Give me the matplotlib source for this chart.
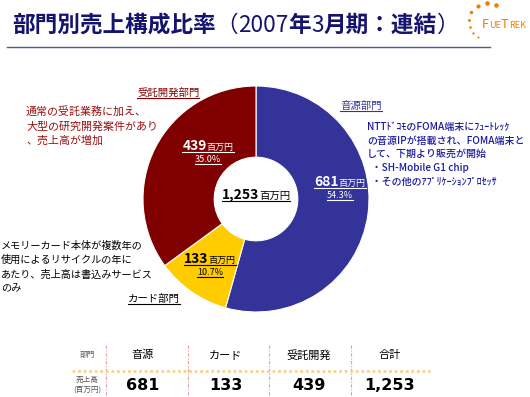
import matplotlib
matplotlib.use("Agg")
import matplotlib.pyplot as plt

plt.rcParams['font.family'] = ['Noto Sans CJK JP', 'DejaVu Sans']

# data
segments = ['音源', 'カード', '受託開発']
sales = [681, 133, 439]
shares = ['54.3%', '10.7%', '35.0%']
total = 1253
colors = ['#333399', '#FFCC00', '#800000']

title_parts = ['部門別売上構成比率', '（', '2007', '年', '3', '月期：連結', '）']

W, H = 530, 397
fig = plt.figure(figsize=(W / 100, H / 100), dpi=100)

# donut
cx, cy, r = 256, 199, 113
axp = fig.add_axes([(cx - r) / W, (H - cy - r) / H, 2 * r / W, 2 * r / H])
axp.pie(sales, colors=colors, startangle=90, counterclock=False, radius=1,
        wedgeprops=dict(width=0.63, edgecolor='white', linewidth=0.8))
axp.set_xlim(-1, 1)
axp.set_ylim(-1, 1)
axp.set_aspect('equal')

# overlay axes in pixel coordinates, on top of the pie
ax0 = fig.add_axes([0, 0, 1, 1])
ax0.set_xlim(0, W)
ax0.set_ylim(H, 0)
ax0.axis('off')
ax0.patch.set_alpha(0)
ax0.set_zorder(5)

renderer = fig.canvas.get_renderer()


def width_of(t):
    bb = t.get_window_extent(renderer=renderer)
    return bb.width


def seq_text(x, y, parts, ha='left', underline=False, ucolor=None):
    # draw text parts one after another on a common baseline
    texts = []
    for s, kw in parts:
        t = ax0.text(0, y, s, va='baseline', ha='left', **kw)
        texts.append(t)
    ws = [width_of(t) for t in texts]
    tot = sum(ws)
    if ha == 'center':
        x0 = x - tot / 2
    elif ha == 'right':
        x0 = x - tot
    else:
        x0 = x
    pos = x0
    for t, w in zip(texts, ws):
        t.set_x(pos)
        pos += w
    if underline:
        ax0.plot([x0, x0 + tot], [y + 2, y + 2], color=ucolor, lw=0.8)
    return x0, tot


def utext(x, y, s, ha='left', **kw):
    # single text with underline
    t = ax0.text(x, y, s, va='baseline', ha=ha, **kw)
    w = width_of(t)
    x0 = x - w / 2 if ha == 'center' else (x - w if ha == 'right' else x)
    ax0.plot([x0, x0 + w], [y + 2, y + 2], color=kw.get('color', 'k'), lw=0.8)
    return t


# title
navy = '#14146e'
tk = dict(color=navy, fontsize=16.3)
seq_text(12, 32, [(title_parts[0], dict(fontweight='bold', **tk)),
                  (title_parts[1], dict(**tk)),
                  (title_parts[2], dict(**tk)),
                  (title_parts[3], dict(fontweight='bold', **tk)),
                  (title_parts[4], dict(**tk)),
                  (title_parts[5], dict(fontweight='bold', **tk)),
                  (title_parts[6], dict(**tk))])
ax0.plot([7, 490], [47, 47], color='#55558f', lw=1.0)

# logo
orange = '#F08000'
dots = [(478, 6, 3.0), (487, 3, 3.3), (496, 5, 3.3), (471, 12, 2.5), (469, 20, 2.1),
        (470, 27, 1.9), (473, 33, 1.7), (478, 37, 1.5)]
for dx, dy, ds in dots:
    ax0.plot(dx, dy, 'o', color=orange, ms=ds, mec='none')
seq_text(482, 28, [('F', dict(color=orange, fontsize=9.2)),
                   ('UE', dict(color=orange, fontsize=6.6)),
                   ('T', dict(color=orange, fontsize=9.2)),
                   ('REK', dict(color=orange, fontsize=6.6))])

# segment headings
utext(137, 96, '受託開発部門', color='#800000', fontsize=7.5)
utext(340, 109, '音源部門', color='#333399', fontsize=7.5)
utext(128, 302, 'カード部門', color='black', fontsize=7.5)

# notes
ax0.text(26, 106, '通常の受託業務に加え、\n大型の研究開発案件があり\n、売上高が増加',
         color='#9a1010', fontsize=7.9, va='top', linespacing=1.45)
ax0.text(367, 122, 'NTTﾄﾞｺﾓのFOMA端末にﾌｭｰﾄﾚｯｸ\nの音源IPが搭載され、FOMA端末と\n'
         'して、下期より販売が開始\n  ・SH-Mobile G1 chip\n  ・その他のｱﾌﾟﾘｹｰｼｮﾝﾌﾟﾛｾｯｻ',
         color='#1a1aa0', fontsize=7.2, va='top', linespacing=1.45, fontweight='medium')
ax0.text(1, 241, 'メモリーカード本体が複数年の\n使用によるリサイクルの年に\nあたり、売上高は書込みサービス\nのみ',
         color='black', fontsize=7.3, va='top', linespacing=1.5)

# wedge labels
lab = {0: (340, 186, '#ffffff'), 1: (210, 263, 'black'), 2: (208, 150, '#ffffff')}
for i, v in enumerate(sales):
    x, y, c = lab[i]
    seq_text(x, y, [(str(v), dict(color=c, fontsize=10, fontweight='bold')),
                    ('百万円', dict(color=c, fontsize=6.5))],
             ha='center', underline=True, ucolor=c)
    utext(x, y + 12, shares[i], ha='center', color=c, fontsize=6.5)

seq_text(256, 199, [(f'{total:,}', dict(color='black', fontsize=10, fontweight='bold')),
                    ('百万円', dict(color='black', fontsize=7.5))],
         ha='center', underline=True, ucolor='black')

# table
col_x = [143, 226, 309, 390]
sep_x = [106, 188, 269, 351]
heads = segments + ['合計']
vals = [f'{v:,}' for v in sales] + [f'{total:,}']
ax0.text(87, 355, '部門', color='#555555', fontsize=5.5, ha='center', va='center')
ax0.text(87, 385, '売上高\n(百万円)', color='#555555', fontsize=5.5, ha='center',
         va='center', linespacing=1.3)
for x, h, v in zip(col_x, heads, vals):
    ax0.text(x, 355, h, color='black', fontsize=8, ha='center', va='center')
    ax0.text(x, 386, v, color='black', fontsize=11.5, ha='center', va='center',
             fontweight='bold', family='DejaVu Sans')
for x in sep_x:
    ax0.plot([x, x], [345, 397], color='#e0a0a0', lw=0.8, ls=(0, (3, 1.5, 1, 1.5)))
ax0.plot([72, 430], [371, 371], color='#f8d090', lw=2, ls=(0, (1, 1)))

fig.savefig('out.png', dpi=100)
